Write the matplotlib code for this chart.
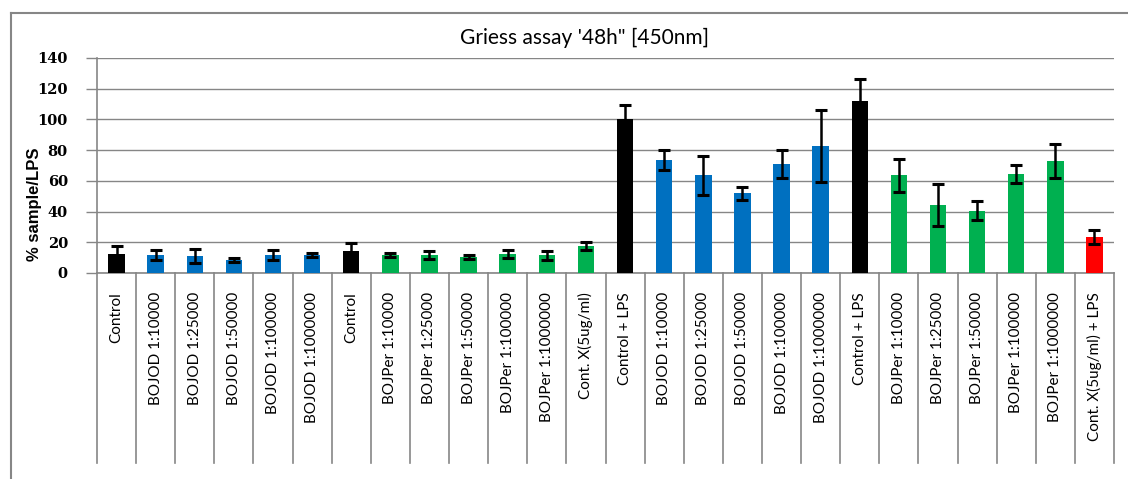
import matplotlib
matplotlib.use("Agg")
import matplotlib.pyplot as plt
from matplotlib.lines import Line2D
import matplotlib.transforms as mtransforms

categories = [
    "Control", "BOJOD 1:10000", "BOJOD 1:25000", "BOJOD 1:50000", "BOJOD 1:100000",
    "BOJOD 1:1000000", "Control", "BOJPer 1:10000", "BOJPer 1:25000", "BOJPer 1:50000",
    "BOJPer 1:100000", "BOJPer 1:1000000", "Cont. X(5ug/ml)", "Control + LPS",
    "BOJOD 1:10000", "BOJOD 1:25000", "BOJOD 1:50000", "BOJOD 1:100000",
    "BOJOD 1:1000000", "Control + LPS", "BOJPer 1:10000", "BOJPer 1:25000",
    "BOJPer 1:50000", "BOJPer 1:100000", "BOJPer 1:1000000", "Cont. X(5ug/ml) + LPS",
]
values = [12.4, 11.6, 11.2, 8.5, 11.8, 11.6, 14.2, 11.7, 11.5, 10.2, 12.3, 11.6, 17.5,
          100.2, 73.6, 63.6, 51.8, 71.0, 82.8, 112.0, 63.6, 44.2, 40.4, 64.3, 72.9, 23.3]
errors = [5.0, 3.3, 4.4, 1.3, 3.5, 1.5, 5.2, 1.5, 2.6, 1.3, 2.7, 3.0, 2.5,
          9.0, 6.8, 12.8, 4.5, 9.4, 23.5, 14.0, 10.8, 13.5, 6.2, 6.0, 11.2, 4.4]
groups = ["ctrl", "od", "od", "od", "od", "od", "ctrl", "per", "per", "per", "per", "per", "per",
          "ctrl", "od", "od", "od", "od", "od", "ctrl", "per", "per", "per", "per", "per", "x"]
palette = {"ctrl": "#000000", "od": "#0070C0", "per": "#00B050", "x": "#FF0000"}
yticks = [0, 20, 40, 60, 80, 100, 120, 140]
title = "Griess assay '48h\" [450nm]"
ylabel = "% sample/LPS"

W, H = 1128, 479
fig = plt.figure(figsize=(W / 100, H / 100), dpi=100)
fig.patch.set_facecolor("white")

x0, x1, ytop, ybot = 97, 1114, 58, 273
ax = fig.add_axes([x0 / W, 1 - ybot / H, (x1 - x0) / W, (ybot - ytop) / H])

grid_c = "#868686"
xs = list(range(len(categories)))
cols = [palette[g] for g in groups]
ax.bar(xs, values, width=0.42, color=cols, zorder=3)
ax.errorbar(xs, values, yerr=errors, fmt="none", ecolor="black", elinewidth=1.8,
            capsize=4, capthick=2.2, zorder=4)

ax.set_xlim(-0.5, len(categories) - 0.5)
ax.set_ylim(0, 140)
ax.set_yticks(yticks)
ax.yaxis.grid(True, color=grid_c, linewidth=1.0, zorder=0)
ax.set_axisbelow(True)
for s in ["top", "right"]:
    ax.spines[s].set_visible(False)
ax.spines["left"].set_color(grid_c)
ax.spines["bottom"].set_color(grid_c)
ax.spines["left"].set_linewidth(1.2)
ax.spines["bottom"].set_linewidth(1.2)
ax.tick_params(axis="y", length=8, color=grid_c, width=1.0, pad=13)
ax.set_xticks([])
for lbl in ax.get_yticklabels():
    lbl.set_fontfamily("DejaVu Serif")
    lbl.set_fontweight("bold")
    lbl.set_fontsize(10.5)

# category table lines and labels
trans = mtransforms.blended_transform_factory(ax.transData, ax.transAxes)
table_bottom = -(463 - ybot) / (ybot - ytop)
for i in range(len(categories) + 1):
    ax.add_line(Line2D([i - 0.5, i - 0.5], [0, table_bottom], transform=trans,
                       color=grid_c, linewidth=1.2, clip_on=False))
label_top = -(292 - ybot) / (ybot - ytop)
for i, c in enumerate(categories):
    ax.text(i, label_top, c, transform=trans, rotation=90, ha="center", va="top",
            fontsize=11, family="Lato", color="black")

fig.text(585 / W, 1 - 38 / H, title, ha="center", va="center", fontsize=15,
         family="Lato", color="black")
fig.text(35 / W, 1 - 204 / H, ylabel, ha="center", va="center", rotation=90,
         fontsize=12, family="Liberation Sans", fontweight="bold")

# chart area frame
fig.add_artist(Line2D([11 / W, 11 / W], [0, 1 - 13 / H], transform=fig.transFigure,
                      color=grid_c, linewidth=1.5))
fig.add_artist(Line2D([11 / W, 1], [1 - 13 / H, 1 - 13 / H], transform=fig.transFigure,
                      color=grid_c, linewidth=1.5))

fig.savefig("out.png", dpi=100, facecolor="white")
